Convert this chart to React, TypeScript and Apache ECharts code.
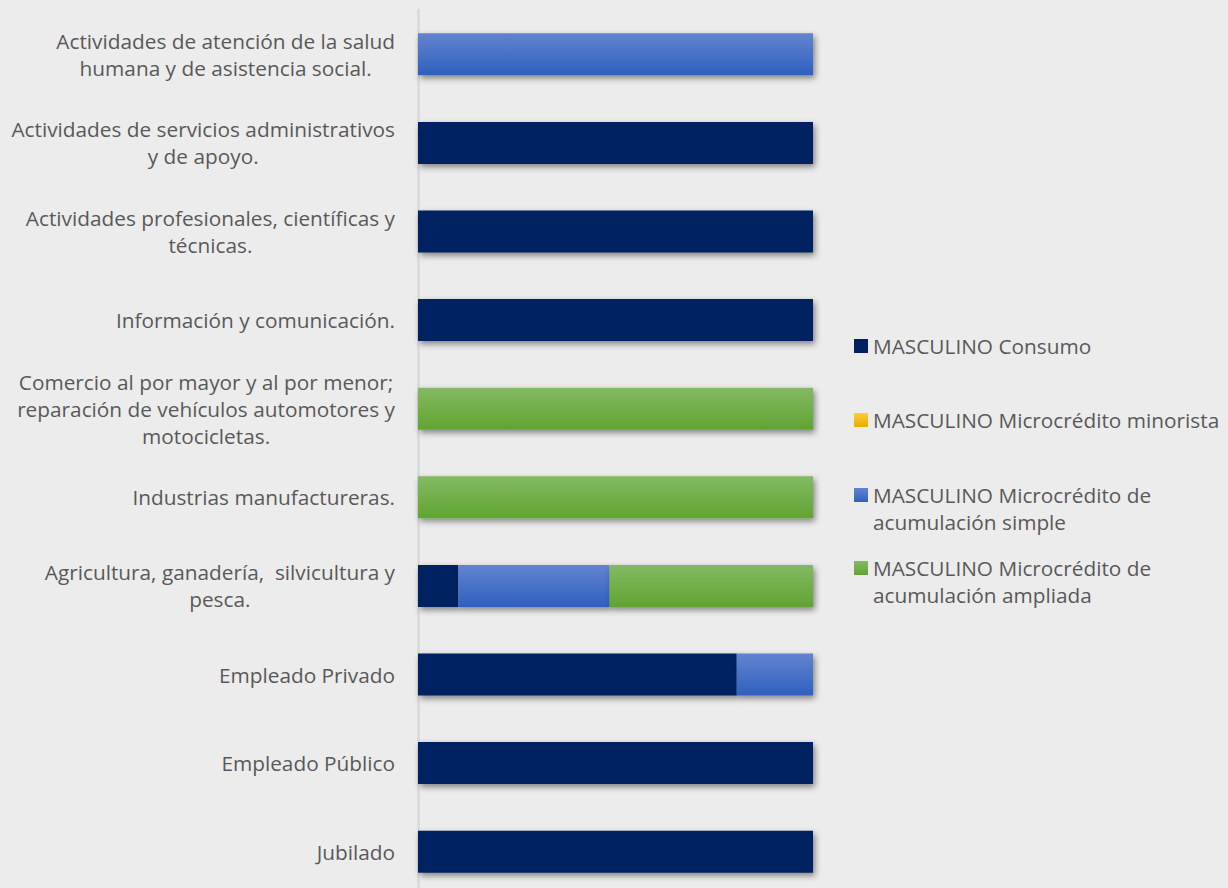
import React, { useEffect, useRef } from "react";
import * as echarts from "echarts";

const categories = [
  "Actividades de atención de la salud\nhumana y de asistencia social.",
  "Actividades de servicios administrativos\ny de apoyo.",
  "Actividades profesionales, científicas y\ntécnicas.",
  "Información y comunicación.",
  "Comercio al por mayor y al por menor;\nreparación de vehículos automotores y\nmotocicletas.",
  "Industrias manufactureras.",
  "Agricultura, ganadería,  silvicultura y\npesca.",
  "Empleado Privado",
  "Empleado Público",
  "Jubilado",
];

const seriesNames = [
  "MASCULINO Consumo",
  "MASCULINO Microcrédito minorista",
  "MASCULINO Microcrédito de\nacumulación simple",
  "MASCULINO Microcrédito de\nacumulación ampliada",
];

const consumo = [0, 100, 100, 100, 0, 0, 10.2, 80.7, 100, 100];
const minorista = [0, 0, 0, 0, 0, 0, 0, 0, 0, 0];
const simple = [100, 0, 0, 0, 0, 0, 38.3, 19.3, 0, 0];
const ampliada = [0, 0, 0, 0, 100, 100, 51.5, 0, 0, 0];

const FONT = "'Open Sans', 'Noto Sans', sans-serif";
const TEXT_COLOR = "#595959";
const FONT_SIZE = 20.8;

const grad = (top: string, bottom: string) =>
  new echarts.graphic.LinearGradient(0, 0, 0, 1, [
    { offset: 0, color: top },
    { offset: 1, color: bottom },
  ]);

export default function App() {
  const ref = useRef<HTMLDivElement>(null);

  useEffect(() => {
    if (!ref.current) return;
    const chart = echarts.init(ref.current, undefined, { renderer: "svg" });

    const colors = [
      "#002060",
      grad("#ffcb3a", "#e8ad00"),
      grad("#6384cf", "#2e60be"),
      grad("#83ba62", "#61a432"),
    ];
    const dataSets = [consumo, minorista, simple, ampliada];

    const shadow = {
      shadowBlur: 6,
      shadowColor: "rgba(0,0,0,0.45)",
      shadowOffsetX: 2,
      shadowOffsetY: 3,
    };

    // icon centres: 346, 420, 495, 568
    const legendTops = [332.5, 406.5, 454.5, 527.5];

    chart.setOption({
      animation: false,
      backgroundColor: "#ececec",
      grid: { left: 418, top: 10, width: 395, height: 886 },
      xAxis: {
        type: "value",
        min: 0,
        max: 100,
        show: false,
      },
      yAxis: {
        type: "category",
        inverse: true,
        data: categories,
        axisLine: { show: true, lineStyle: { color: "#d9d9d9", width: 2.5 } },
        axisTick: { show: false },
        splitLine: { show: false },
        axisLabel: {
          margin: 23,
          align: "right",
          formatter: (v: string) =>
            v
              .split("\n")
              .map((l) => `{c|${l}}`)
              .join("\n"),
          rich: {
            c: {
              align: "center",
              fontFamily: FONT,
              fontSize: FONT_SIZE,
              lineHeight: 27,
              color: TEXT_COLOR,
            },
          },
        },
      },
      legend: seriesNames.map((name, i) => ({
        data: [name],
        left: 854,
        top: legendTops[i],
        padding: 0,
        icon: "rect",
        itemWidth: 14,
        itemHeight: 14,
        selectedMode: false,
        formatter: (n: string) => (n.includes("\n") ? " \n" + n : n),
        textStyle: {
          fontFamily: FONT,
          fontSize: FONT_SIZE,
          lineHeight: 27,
          color: TEXT_COLOR,
        },
      })),
      series: seriesNames.map((name, i) => ({
        name,
        type: "bar",
        stack: "total",
        barWidth: 42,
        data: dataSets[i],
        itemStyle: { color: colors[i], ...shadow },
        emphasis: { disabled: true },
      })),
    });

    return () => chart.dispose();
  }, []);

  return (
    <div
      style={{
        position: "absolute",
        left: 0,
        top: 0,
        width: 1228,
        height: 888,
        overflow: "hidden",
        background: "#ececec",
      }}
    >
      <div ref={ref} style={{ width: 1228, height: 900 }} />
    </div>
  );
}
